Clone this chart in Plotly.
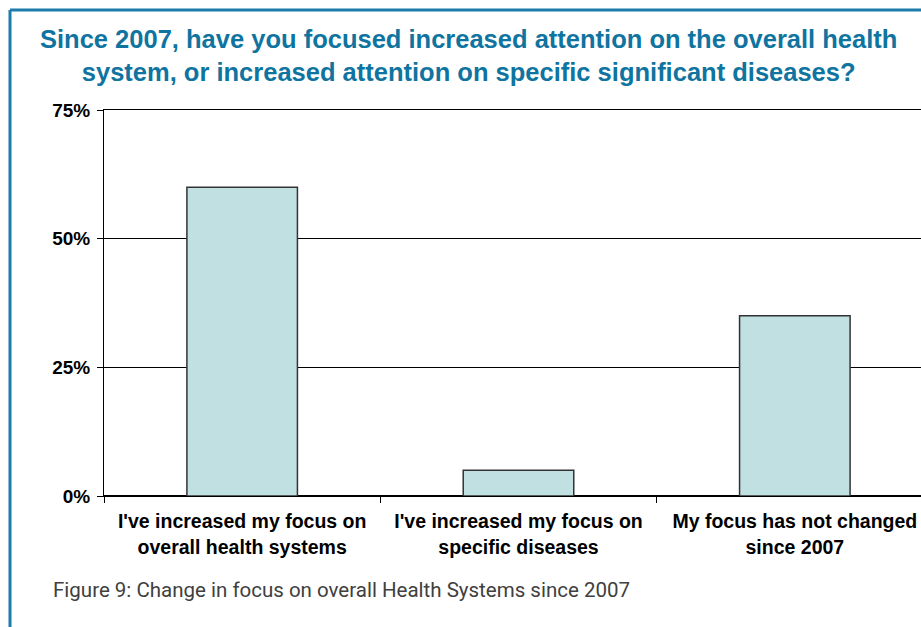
import plotly.graph_objects as go

categories = [
    "I've increased my focus on<br>overall health systems",
    "I've increased my focus on<br>specific diseases",
    "My focus has not changed<br>since 2007",
]
shares = [60, 5, 35]
y_ticks = [0, 25, 50, 75]
y_tick_labels = ["0%", "25%", "50%", "75%"]

TITLE_BLUE = "#0f74a0"
BORDER_BLUE = "#1c7dab"
BAR_FILL = "#c0e0e2"

W, H = 921, 627
L, R, T, B = 104, 0, 110, 131
pw, ph = W - L - R, H - T - B


def px_x(p):
    return (p - L) / pw


def px_y(p):
    return (H - B - p) / ph


fig = go.Figure(
    go.Bar(
        x=categories,
        y=shares,
        width=0.4,
        marker=dict(color=BAR_FILL, line=dict(color="#333333", width=1.5)),
    )
)

fig.update_layout(
    width=W,
    height=H,
    margin=dict(l=L, r=R, t=T, b=B),
    paper_bgcolor="white",
    plot_bgcolor="white",
    showlegend=False,
    font=dict(family="Liberation Sans, Arial, sans-serif", color="black"),
    xaxis=dict(
        range=[-0.5, 2.5 - 12 / 276.5],
        tickson="boundaries",
        ticks="outside",
        ticklen=6,
        tickcolor="black",
        showgrid=False,
        showline=True,
        mirror=True,
        linecolor="black",
        linewidth=1,
        tickfont=dict(size=19.5, weight="bold"),
        ticklabelstandoff=8,
    ),
    yaxis=dict(
        range=[0, 75],
        tickvals=y_ticks,
        ticktext=y_tick_labels,
        ticks="outside",
        ticklen=6,
        tickcolor="black",
        showgrid=True,
        gridcolor="black",
        gridwidth=1,
        zeroline=True,
        zerolinecolor="black",
        zerolinewidth=2,
        showline=True,
        linecolor="black",
        linewidth=1,
        tickfont=dict(size=19, weight="bold"),
        ticklabelstandoff=3,
    ),
)

# frame lines at top and left of the page
fig.add_shape(type="line", xref="paper", yref="paper",
              x0=px_x(10), x1=px_x(W + 5), y0=px_y(10), y1=px_y(10),
              line=dict(color=BORDER_BLUE, width=3))
fig.add_shape(type="line", xref="paper", yref="paper",
              x0=px_x(10), x1=px_x(10), y0=px_y(10), y1=px_y(H + 5),
              line=dict(color=BORDER_BLUE, width=3))

fig.add_annotation(
    xref="paper", yref="paper", x=px_x(468), y=px_y(56),
    text="Since 2007, have you focused increased attention on the overall health<br>"
         "system, or increased attention on specific significant diseases?",
    showarrow=False, xanchor="center", yanchor="middle", align="center",
    font=dict(family="Liberation Sans, Arial, sans-serif", size=25.5,
              color=TITLE_BLUE, weight="bold"),
)
fig.add_annotation(
    xref="paper", yref="paper", x=px_x(51), y=px_y(590),
    text="Figure 9: Change in focus on overall Health Systems since 2007",
    showarrow=False, xanchor="left", yanchor="middle",
    font=dict(family="Liberation Sans Narrow, Roboto, sans-serif", size=20.5, color="#404040"),
)

fig.write_html("out.html", config={"displayModeBar": False},
               post_script="document.body.style.margin='0';")
